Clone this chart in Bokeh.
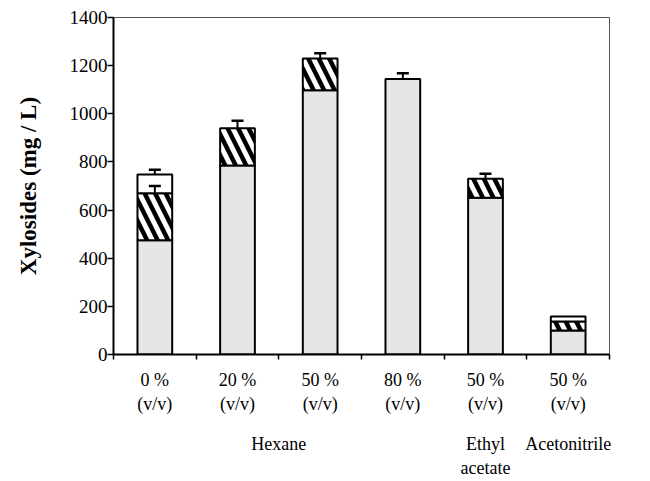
import numpy as np
from bokeh.plotting import figure
from bokeh.models import (Range1d, FixedTicker, LinearAxis, Whisker, TeeHead,
                          ColumnDataSource)
from bokeh.embed import file_html
from bokeh.resources import INLINE

# ---- data ----
labels = ["0 %\n(v/v)", "20 %\n(v/v)", "50 %\n(v/v)", "80 %\n(v/v)", "50 %\n(v/v)", "50 %\n(v/v)"]
groups = ["Hexane", "Ethyl\nacetate", "Acetonitrile"]
group_pos = [1.5, 4, 5]
gray_vals = [475, 785, 1098, 1144, 651, 100]
hatch_vals = [195, 155, 132, 0, 79, 37]
white_vals = [78, 0, 0, 0, 0, 21]
top_err = [19, 31, 21, 24, 21, 0]
hatch_err = [30, 0, 0, 0, 0, 0]

x = np.arange(len(labels))
g = np.array(gray_vals, float)
h = np.array(hatch_vals, float)
w = np.array(white_vals, float)
serif = "Liberation Serif"

p = figure(width=650, height=481, output_backend="svg", toolbar_location=None,
           x_range=Range1d(-0.5, 5.5), y_range=Range1d(0, 1400),
           min_border_left=113, min_border_top=17, min_border_right=41,
           min_border_bottom=127, x_axis_location=None)
p.grid.visible = False
p.outline_line_color = "#555555"
p.outline_line_width = 1
p.background_fill_color = "white"

bw = 0.42
p.vbar(x=x, bottom=0, top=g, width=bw, fill_color="#e6e6e6",
       line_color="black", line_width=2)
mask = h > 0
p.vbar(x=x[mask], bottom=g[mask], top=(g + h)[mask], width=bw, fill_color="white",
       hatch_pattern="\\", hatch_color="black", hatch_scale=21, hatch_weight=4.5,
       line_color="black", line_width=2)
mask = w > 0
p.vbar(x=x[mask], bottom=(g + h)[mask], top=(g + h + w)[mask], width=bw,
       fill_color="white", line_color="black", line_width=2)

tot = g + h + w
m = np.array(top_err) > 0
src = ColumnDataSource(dict(x=x[m], lo=tot[m], hi=(tot + np.array(top_err))[m]))
p.add_layout(Whisker(source=src, base="x", lower="lo", upper="hi", level="overlay",
                     line_width=2, line_color="black",
                     upper_head=TeeHead(size=12, line_width=2.5), lower_head=None))
m2 = np.array(hatch_err) > 0
src2 = ColumnDataSource(dict(x=x[m2], lo=(g + h)[m2], hi=(g + h + np.array(hatch_err))[m2]))
p.add_layout(Whisker(source=src2, base="x", lower="lo", upper="hi", level="overlay",
                     line_width=2, line_color="black",
                     upper_head=TeeHead(size=12, line_width=2.5), lower_head=None))

# y axis
ya = p.yaxis[0]
ya.ticker = FixedTicker(ticks=list(range(0, 1401, 200)))
ya.axis_line_width = 2
ya.major_tick_out = 6
ya.major_tick_in = 0
ya.major_tick_line_width = 1.5
ya.minor_tick_line_color = None
ya.major_label_text_font = serif
ya.major_label_text_font_size = "19px"
ya.major_label_text_color = "black"
ya.major_label_standoff = 0
ya.axis_label = "Xylosides (mg / L)"
ya.axis_label_text_font = serif
ya.axis_label_text_font_style = "bold"
ya.axis_label_text_font_size = "23px"
ya.axis_label_text_color = "black"
ya.axis_label_standoff = 26

# x axis with category labels; boundary ticks as minor ticks
xa = LinearAxis(ticker=FixedTicker(ticks=list(x), minor_ticks=[i + 0.5 for i in range(-1, 6)]),
                major_label_overrides={int(i): labels[i] for i in x})
xa.axis_line_width = 2
xa.major_tick_out = 0
xa.major_tick_in = 0
xa.minor_tick_out = 5
xa.minor_tick_in = 0
xa.minor_tick_line_width = 1.5
xa.major_label_text_font = serif
xa.major_label_text_font_size = "18px"
xa.major_label_text_color = "black"
xa.major_label_standoff = 10
p.add_layout(xa, "below")

ga = LinearAxis(ticker=FixedTicker(ticks=group_pos, minor_ticks=[]),
                major_label_overrides={1.5: groups[0], 4: groups[1], 5: groups[2]})
ga.axis_line_color = None
ga.major_tick_line_color = None
ga.minor_tick_line_color = None
ga.major_label_text_font = serif
ga.major_label_text_font_size = "18px"
ga.major_label_text_color = "black"
ga.major_label_standoff = 11
p.add_layout(ga, "below")

open("out.html", "w").write(file_html(p, INLINE))
